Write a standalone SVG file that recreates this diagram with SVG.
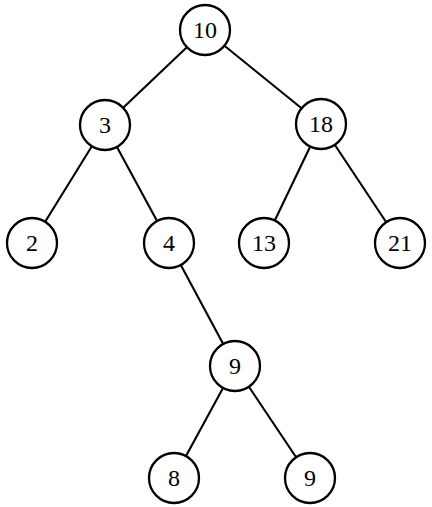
<svg xmlns="http://www.w3.org/2000/svg" width="432" height="507" viewBox="0 0 432 507">
<style>
.n circle{fill:#fff;stroke:#000;stroke-width:2.3}
.n text{font-family:"Liberation Serif","DejaVu Serif",serif;font-size:24px;text-anchor:middle;dominant-baseline:central;fill:#000}
#edges line{stroke:#000;stroke-width:2.1}
</style>
<rect width="432" height="507" fill="#fff"/>
<g id="edges">
<line x1="205" y1="30" x2="105" y2="125"/>
<line x1="205" y1="30" x2="321" y2="124"/>
<line x1="105" y1="125" x2="32" y2="243"/>
<line x1="105" y1="125" x2="169" y2="243"/>
<line x1="321" y1="124" x2="264" y2="243"/>
<line x1="321" y1="124" x2="400" y2="243"/>
<line x1="169" y1="243" x2="235" y2="366"/>
<line x1="235" y1="366" x2="174" y2="478"/>
<line x1="235" y1="366" x2="310" y2="478"/>
</g>
<g id="n10" class="n"><circle cx="205" cy="30" r="25"/><text x="205" y="30">10</text></g>
<g id="n3" class="n"><circle cx="105" cy="125" r="25"/><text x="105" y="125">3</text></g>
<g id="n18" class="n"><circle cx="321" cy="124" r="25"/><text x="321" y="124">18</text></g>
<g id="n2" class="n"><circle cx="32" cy="243" r="25"/><text x="32" y="243">2</text></g>
<g id="n4" class="n"><circle cx="169" cy="243" r="25"/><text x="169" y="243">4</text></g>
<g id="n13" class="n"><circle cx="264" cy="243" r="25"/><text x="264" y="243">13</text></g>
<g id="n21" class="n"><circle cx="400" cy="243" r="25"/><text x="400" y="243">21</text></g>
<g id="n9a" class="n"><circle cx="235" cy="366" r="25"/><text x="235" y="366">9</text></g>
<g id="n8" class="n"><circle cx="174" cy="478" r="25"/><text x="174" y="478">8</text></g>
<g id="n9b" class="n"><circle cx="310" cy="478" r="25"/><text x="310" y="478">9</text></g>
</svg>
